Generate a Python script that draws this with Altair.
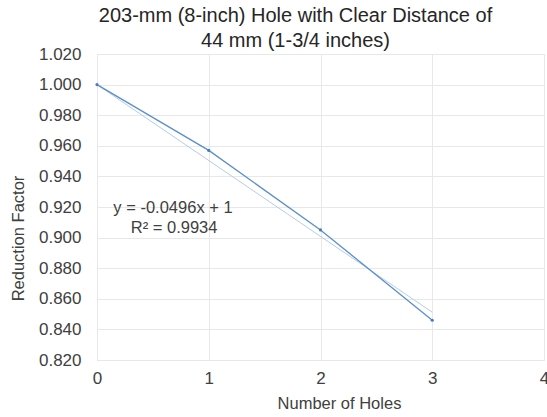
import altair as alt
import pandas as pd

holes = [0, 1, 2, 3]
factor = [1.000, 0.957, 0.905, 0.846]
trend_x = [0, 3]
trend_y = [1.0, 1.0 - 0.0496 * 3]
eq_lines = ["y = -0.0496x + 1", "R² = 0.9934"]
eq_x = [0.68, 0.69]
eq_y = [0.9193, 0.9063]
y_ticks = [0.82, 0.84, 0.86, 0.88, 0.90, 0.92, 0.94, 0.96, 0.98, 1.00, 1.02]
x_ticks = [0, 1, 2, 3, 4]

df = pd.DataFrame({"x": holes, "y": factor})
tdf = pd.DataFrame({"x": trend_x, "y": trend_y})
edf = pd.DataFrame({"x": eq_x, "y": eq_y, "t": eq_lines})

font = "Liberation Sans"
xs = alt.Scale(domain=[0, 4], nice=False)
ys = alt.Scale(domain=[0.82, 1.02], nice=False, zero=False)

xax = alt.Axis(values=x_ticks, format="d", title="Number of Holes", grid=True,
               ticks=False, domain=False, labelFontSize=17, titleFontSize=16.5,
               labelColor="#404040", titleColor="#404040", labelPadding=10,
               titlePadding=9, titleFontWeight="normal", gridColor="#e8e8e8",
               labelFont=font, titleFont=font, labelOverlap=False, labelFlush=False,
               titleX=242)
yax = alt.Axis(values=y_ticks, format=".3f",
               title="Reduction Factor", grid=True, ticks=False, domain=False,
               labelFontSize=17, titleFontSize=16.5, labelColor="#404040",
               titleColor="#404040", labelPadding=16, titlePadding=12,
               titleFontWeight="normal", gridColor="#e8e8e8",
               labelFont=font, titleFont=font, labelOverlap=False, labelFlush=False,
               titleY=184)

trend = alt.Chart(tdf).mark_line(color="#b4cde8", strokeWidth=1).encode(
    x=alt.X("x:Q", scale=xs, axis=xax), y=alt.Y("y:Q", scale=ys, axis=yax))
line = alt.Chart(df).mark_line(color="#5b8fc9", strokeWidth=1.3,
                               point=alt.OverlayMarkDef(color="#4a7ebb", size=10)).encode(
    x=alt.X("x:Q", scale=xs, axis=xax), y=alt.Y("y:Q", scale=ys, axis=yax))
eq = alt.Chart(edf).mark_text(font=font, fontSize=16.5, color="#404040").encode(
    x=alt.X("x:Q", scale=xs, axis=xax), y=alt.Y("y:Q", scale=ys, axis=yax), text="t:N")

chart = alt.layer(trend, line, eq).properties(
    width=447, height=306,
    title=alt.TitleParams(["203-mm (8-inch) Hole with Clear Distance of", "44 mm (1-3/4 inches)"],
                          font=font, fontSize=20, fontWeight="normal", color="#262626",
                          anchor="middle", offset=-6, lineHeight=25, dx=-25),
    padding={"left": 97, "top": 54, "right": 3, "bottom": 57},
    autosize=alt.AutoSizeParams(type="none"),
).configure_view(stroke=None).configure_axis(labelOverlap=False).configure(background="white")

chart.save("out.html", embed_options={"renderer": "svg", "actions": False})
